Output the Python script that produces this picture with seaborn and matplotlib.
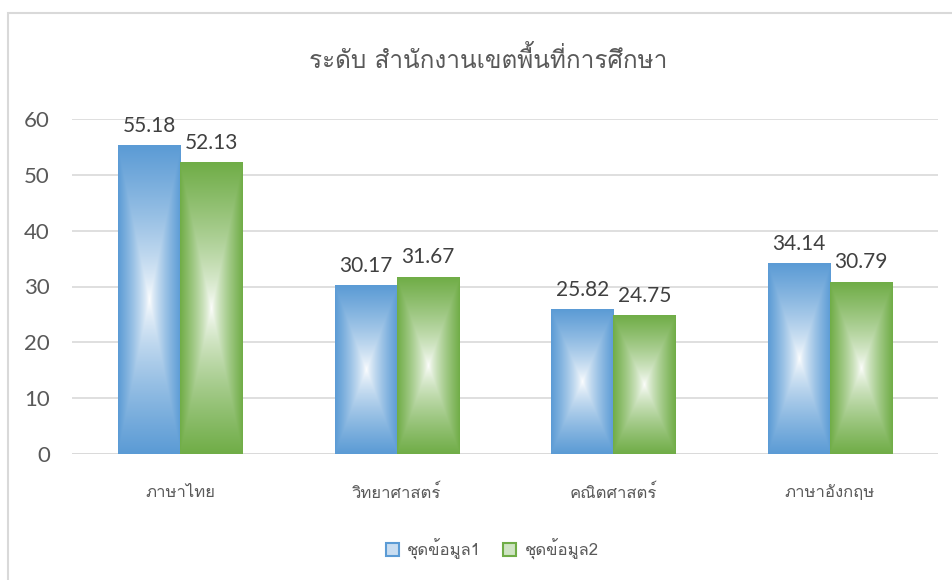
import numpy as np
import pandas as pd
import seaborn as sns
import matplotlib
import matplotlib.pyplot as plt
import matplotlib.patches as patches
from matplotlib import font_manager, ft2font

# Data
subjects = ["ภาษาไทย", "วิทยาศาสตร์", "คณิตศาสตร์", "ภาษาอังกฤษ"]
series_names = ["ชุดข้อมูล1", "ชุดข้อมูล2"]
series1 = [55.18, 30.17, 25.82, 34.14]
series2 = [52.13, 31.67, 24.75, 30.79]
title_text = "ระดับ สำนักงานเขตพื้นที่การศึกษา"
y_ticks = [0, 10, 20, 30, 40, 50, 60]

BLUE = "#5B9BD5"
GREEN = "#70AD47"
GRID = "#D9D9D9"
TEXT = "#595959"


def find_thai_font():
    """Pick an installed family that has Thai glyphs."""
    for f in font_manager.fontManager.ttflist:
        try:
            cmap = ft2font.FT2Font(f.fname).get_charmap()
        except Exception:
            continue
        if 0x0E01 in cmap and 0x0E33 in cmap and 0x0E49 in cmap:
            return f.name
    return "DejaVu Sans"


def gradient_image(color, n=200):
    """Rectangle 'from centre' gradient: white middle, full colour at edges."""
    rgb = np.array(matplotlib.colors.to_rgb(color))
    yy, xx = np.mgrid[-1:1:complex(0, n), -1:1:complex(0, n)]
    t = np.maximum(np.abs(xx), np.abs(yy)) ** 0.75
    img = (1 - t)[..., None] * np.ones(3) + t[..., None] * rgb
    return img


sns.set_theme(style="white")
thai = find_thai_font()
plt.rcParams["font.family"] = ["Lato", thai, "DejaVu Sans"]

df = pd.DataFrame({
    "subject": subjects * 2,
    "series": [series_names[0]] * 4 + [series_names[1]] * 4,
    "value": series1 + series2,
})

fig = plt.figure(figsize=(9.52, 5.8), dpi=100)
ax = fig.add_axes([72 / 952, 1 - 454 / 580, (938 - 72) / 952, (454 - 119) / 580])

sns.barplot(data=df, x="subject", y="value", hue="series", order=subjects,
            hue_order=series_names, palette=[BLUE, GREEN], width=0.573,
            gap=0, saturation=1, errorbar=None, ax=ax, zorder=2)
if ax.get_legend():
    ax.get_legend().remove()

# gradient fill inside every bar
for container, col in zip(ax.containers, [BLUE, GREEN]):
    img = gradient_image(col)
    for bar in container:
        x0, y0 = bar.get_x(), bar.get_y()
        w, h = bar.get_width(), bar.get_height()
        bar.set_facecolor("none")
        bar.set_edgecolor("none")
        ax.imshow(img, extent=(x0, x0 + w, y0, y0 + h), aspect="auto",
                  interpolation="bilinear", zorder=2)
    ax.bar_label(container, fmt="%.2f", padding=7, fontsize=15,
                 color="#404040", family=["Lato", "DejaVu Sans"])

ax.set_xlim(-0.5, len(subjects) - 0.5)
ax.set_ylim(0, 60)
ax.set_yticks(y_ticks)
ax.yaxis.grid(True, color=GRID, linewidth=1.2, zorder=0)
ax.set_axisbelow(True)
for s in ax.spines.values():
    s.set_visible(False)
ax.axhline(0, color=GRID, linewidth=1.2, zorder=1)
ax.set_xlabel("")
ax.set_ylabel("")
ax.tick_params(axis="y", length=0, pad=16, labelsize=16, labelcolor=TEXT)
ax.tick_params(axis="x", length=0, pad=22, labelsize=12, labelcolor=TEXT)
for lbl in ax.get_xticklabels():
    lbl.set_family([thai, "DejaVu Sans"])
    lbl.set_fontweight("light")

fig.text(488 / 952, 1 - 60 / 580, title_text, ha="center", va="center",
         fontsize=17.5, color=TEXT, family=[thai, "DejaVu Sans"],
         fontweight="light")

# legend
handles = [patches.Rectangle((0, 0), 1, 1, facecolor="#C9DDF1", edgecolor=BLUE, linewidth=1.5),
           patches.Rectangle((0, 0), 1, 1, facecolor="#CFE4C3", edgecolor=GREEN, linewidth=1.5)]
fig.legend(handles, series_names, loc="center", ncol=2,
           bbox_to_anchor=(492 / 952, 1 - 549 / 580), frameon=False,
           handlelength=0.8, handleheight=0.8, handletextpad=0.5,
           columnspacing=1.3,
           prop={"family": [thai, "DejaVu Sans"], "size": 12, "weight": "light"},
           labelcolor=TEXT)

# chart area border
fig.patches.append(patches.Rectangle((7.5 / 952, -0.1), 1.2, 1 - 13.5 / 580 + 0.1,
                                     transform=fig.transFigure, fill=False,
                                     edgecolor=GRID, linewidth=1.5))

fig.savefig("out.png", dpi=100)
